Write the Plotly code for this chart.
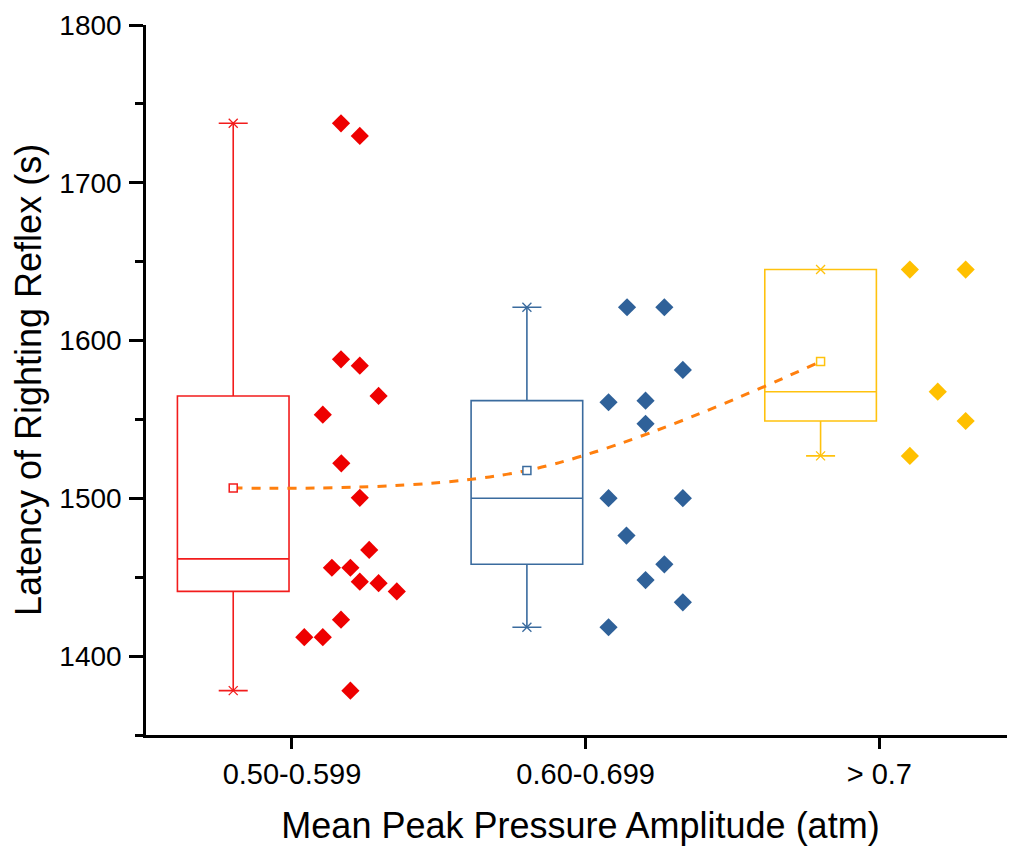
import numpy as np
import plotly.graph_objects as go

# ---------------- data ----------------
categories = ["0.50-0.599", "0.60-0.699", "> 0.7"]

g1_values = [1737.7, 1729.7, 1588.1, 1584.1, 1564.9, 1553.0, 1522.2, 1500.3, 1467.3,
             1456.0, 1456.0, 1447.2, 1446.2, 1441.0, 1423.1, 1412.0, 1412.0, 1378.1]
g1_jitter = [0.167, 0.231, 0.167, 0.231, 0.295, 0.105, 0.168, 0.231, 0.263,
             0.136, 0.199, 0.231, 0.295, 0.357, 0.167, 0.042, 0.105, 0.199]

g2_values = [1621.1, 1621.1, 1581.4, 1560.9, 1561.9, 1547.2, 1500.1, 1500.1,
             1476.4, 1458.2, 1448.2, 1434.1, 1418.3]
g2_jitter = [0.141, 0.268, 0.331, 0.078, 0.204, 0.204, 0.078, 0.331,
             0.139, 0.268, 0.204, 0.331, 0.078]

g3_values = [1645.0, 1645.0, 1567.6, 1549.0, 1526.9]
g3_jitter = [0.104, 0.294, 0.199, 0.294, 0.104]

group_values = [g1_values, g2_values, g3_values]
group_jitter = [g1_jitter, g2_jitter, g3_jitter]

box_colors = ["#F21C1C", "#3A6B9E", "#FFC20E"]
point_colors = ["#EE0000", "#2F6199", "#FFC000"]
mean_line_color = "#FF7F0E"

box_offset = -0.2
box_width = 0.38

FONT = "Liberation Sans, Arial, sans-serif"

fig = go.Figure()

means = []
mean_x = []
for i, (vals, jit) in enumerate(zip(group_values, group_jitter)):
    bx = i + box_offset
    fig.add_trace(go.Box(
        y=vals, x=[bx] * len(vals),
        boxpoints=False, quartilemethod="inclusive",
        width=box_width, whiskerwidth=0.26,
        line=dict(color=box_colors[i], width=1.6),
        fillcolor="rgba(255,255,255,0)",
        showlegend=False, hoverinfo="skip",
    ))
    # whisker end markers (min / max)
    fig.add_trace(go.Scatter(
        x=[bx, bx], y=[min(vals), max(vals)], mode="markers",
        marker=dict(symbol="x-thin", size=9, line=dict(color=box_colors[i], width=1.3)),
        showlegend=False, hoverinfo="skip",
    ))
    # raw data points
    fig.add_trace(go.Scatter(
        x=[i + j for j in jit], y=vals, mode="markers",
        marker=dict(symbol="diamond", size=14, color=point_colors[i], line=dict(width=0)),
        showlegend=False,
    ))
    means.append(float(np.mean(vals)))
    mean_x.append(bx)

# mean connecting line
fig.add_trace(go.Scatter(
    x=mean_x, y=means, mode="lines",
    line=dict(color=mean_line_color, width=3, dash="dash", shape="spline", smoothing=1.0),
    showlegend=False, hoverinfo="skip",
))
# mean markers
for i in range(3):
    fig.add_trace(go.Scatter(
        x=[mean_x[i]], y=[means[i]], mode="markers",
        marker=dict(symbol="square", size=8, color="white",
                    line=dict(color=box_colors[i], width=1.5)),
        showlegend=False,
    ))

# page body has an 8px margin: the figure is sized to fill the rest of the window
fig.update_layout(
    width=1007, height=838,
    margin=dict(l=138, r=0, t=17, b=111),
    paper_bgcolor="white", plot_bgcolor="white",
    font=dict(family=FONT, color="black"),
    xaxis=dict(
        range=[-0.497, 2.462],
        tickmode="array", tickvals=[0, 1, 2], ticktext=categories,
        ticks="outside", ticklen=11, tickwidth=2.5, tickcolor="black",
        showline=True, linecolor="black", linewidth=2.5,
        showgrid=False, zeroline=False,
        tickfont=dict(size=29, family=FONT),
        title=dict(text="Mean Peak Pressure Amplitude (atm)",
                   font=dict(size=36, family=FONT), standoff=26),
    ),
    yaxis=dict(
        range=[1350, 1800],
        tickmode="linear", tick0=1400, dtick=100,
        ticks="outside", ticklen=14, tickwidth=2.5, tickcolor="black",
        minor=dict(dtick=50, tick0=1350, ticks="outside", ticklen=8, tickwidth=2.5, tickcolor="black"),
        showline=True, linecolor="black", linewidth=2.5,
        showgrid=False, zeroline=False,
        tickfont=dict(size=28, family=FONT),
        ticklabelstandoff=2,
        title=dict(text="Latency of Righting Reflex (s)",
                   font=dict(size=36, family=FONT), standoff=14),
    ),
)

fig.write_html("out.html")
